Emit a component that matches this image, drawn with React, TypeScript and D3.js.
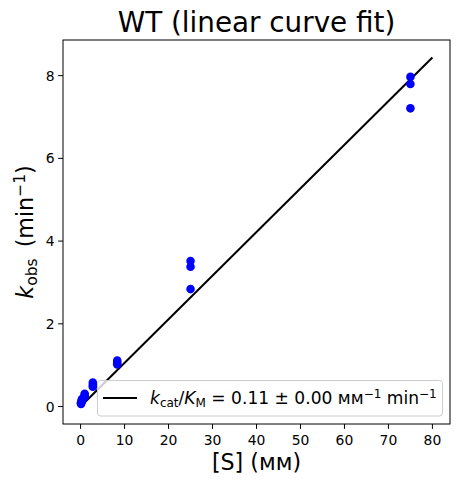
import * as d3 from 'd3';

// substrate concentrations (mM) and observed rates (min^-1)
const substrate = [0.1, 0.1, 0.1, 0.31, 0.31, 0.31, 0.93, 0.93, 0.93, 2.78, 2.78, 2.78, 8.33, 8.33, 8.33, 25, 25, 25, 75, 75, 75];
const kobs = [0.06, 0.08, 0.1, 0.13, 0.16, 0.18, 0.24, 0.28, 0.31, 0.48, 0.52, 0.58, 1.02, 1.06, 1.11, 2.84, 3.38, 3.52, 7.21, 7.8, 7.97];

// linear fit through the origin
const fitRange = [0, 80];
const fitSlope = 0.1055;
const slopeLabel = '0.11';
const slopeErrLabel = '0.00';

const xTicks = [0, 10, 20, 30, 40, 50, 60, 70, 80];
const yTicks = [0, 2, 4, 6, 8];

const W = 460;
const H = 484;
const margin = { top: 40, right: 10, bottom: 60, left: 63 };
const font = '"DejaVu Sans", sans-serif';

export default function App() {
  const x = d3.scaleLinear().domain([-4, 84]).range([margin.left, W - margin.right]);
  const y = d3.scaleLinear().domain([-0.422, 8.862]).range([H - margin.bottom, margin.top]);

  const fitLine = d3.line<number>()
    .x(d => x(d))
    .y(d => y(d * fitSlope));

  const plotLeft = margin.left;
  const plotRight = W - margin.right;
  const plotTop = margin.top;
  const plotBottom = H - margin.bottom;
  const cx = (plotLeft + plotRight) / 2;
  const cy = (plotTop + plotBottom) / 2;

  return (
    <div style={{ position: 'absolute', left: 0, top: 0 }}>
      <svg width={W} height={H} style={{ display: 'block', background: '#fff' }} fontFamily={font}>
        {/* fit line + points */}
        <path d={fitLine(fitRange) || ''} fill="none" stroke="#000" strokeWidth={2} />
        {substrate.map((s, i) => (
          <circle key={i} cx={x(s)} cy={y(kobs[i])} r={4.3} fill="#0000ff" />
        ))}

        {/* frame */}
        <rect x={plotLeft} y={plotTop} width={plotRight - plotLeft} height={plotBottom - plotTop}
          fill="none" stroke="#000" strokeWidth={1} />

        {/* x axis */}
        {xTicks.map(t => (
          <g key={t} transform={`translate(${x(t)},${plotBottom})`}>
            <line y2={4.9} stroke="#000" strokeWidth={1} />
            <text y={20.5} textAnchor="middle" fontSize={13.9} fill="#000">{t}</text>
          </g>
        ))}

        {/* y axis */}
        {yTicks.map(t => (
          <g key={t} transform={`translate(${plotLeft},${y(t)})`}>
            <line x2={-4.9} stroke="#000" strokeWidth={1} />
            <text x={-8.4} dy="0.36em" textAnchor="end" fontSize={13.9} fill="#000">{t}</text>
          </g>
        ))}

        {/* title */}
        <text x={cx} y={32} textAnchor="middle" fontSize={27.8} fill="#000">WT (linear curve fit)</text>

        {/* axis labels */}
        <text x={cx} y={470} textAnchor="middle" fontSize={22.2} fill="#000">[S] (мм)</text>
        <text transform={`translate(33,${cy}) rotate(-90)`} textAnchor="middle" fontSize={22.2} fill="#000">
          <tspan fontStyle="italic">k</tspan>
          <tspan fontSize={15.5} dy={3.5}>obs</tspan>
          <tspan dy={-3.5}>{'\u2002(min'}</tspan>
          <tspan fontSize={15.5} dy={-8}>−1</tspan>
          <tspan dy={8}>)</tspan>
        </text>

        {/* legend */}
        <g>
          <rect x={97.5} y={380.5} width={345} height={35.5} rx={3} ry={3}
            fill="#fff" fillOpacity={0.8} stroke="#cccccc" strokeWidth={1} />
          <line x1={103} x2={137} y1={398} y2={398} stroke="#000" strokeWidth={2} />
          <text x={150} y={404} fontSize={17.1} fill="#000">
            <tspan fontStyle="italic">k</tspan>
            <tspan fontSize={12} dy={2.6}>cat</tspan>
            <tspan dy={-2.6}>/</tspan>
            <tspan fontStyle="italic">K</tspan>
            <tspan fontSize={12} dy={2.6}>M</tspan>
            <tspan dy={-2.6}>{` = ${slopeLabel} ± ${slopeErrLabel} мм`}</tspan>
            <tspan fontSize={12} dy={-6}>−1</tspan>
            <tspan dy={6}> min</tspan>
            <tspan fontSize={12} dy={-6}>−1</tspan>
          </text>
        </g>
      </svg>
    </div>
  );
}
